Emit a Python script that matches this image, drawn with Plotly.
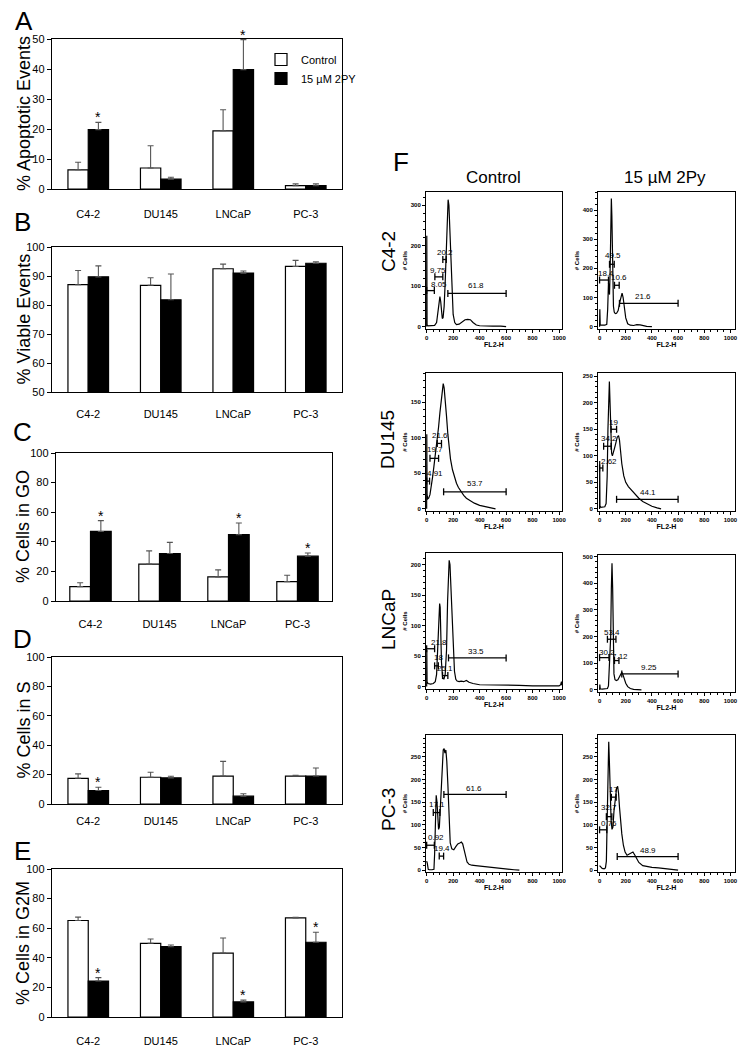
import plotly.graph_objects as go

# The page body has an 8 px margin, so the figure is drawn 8 px smaller and all
# layout pixel positions below are given in reference-image pixels.
OFF = 8
W, H = 750 - OFF, 1050 - OFF
FONT = "Liberation Sans, Arial, sans-serif"

# ---------------- data: bar panels ----------------
categories = ["C4-2", "DU145", "LNCaP", "PC-3"]

apoptotic_control = [6.4, 7.0, 19.4, 1.1]
apoptotic_control_err = [2.5, 7.4, 7.0, 0.6]
apoptotic_2py = [19.8, 3.3, 39.8, 1.1]
apoptotic_2py_err = [2.4, 0.6, 10.0, 0.6]
apoptotic_sig = [1, 0, 1, 0]

viable_control = [87.0, 86.8, 92.5, 93.3]
viable_control_err = [4.9, 2.6, 1.6, 2.1]
viable_2py = [89.7, 81.8, 91.0, 94.4]
viable_2py_err = [3.8, 8.9, 0.7, 0.5]
viable_sig = [0, 0, 0, 0]

g0_control = [9.7, 24.9, 16.3, 13.1]
g0_control_err = [2.6, 9.0, 4.7, 4.3]
g0_2py = [47.0, 32.1, 44.8, 30.3]
g0_2py_err = [7.3, 7.5, 7.9, 2.1]
g0_sig = [1, 0, 1, 1]

s_control = [17.5, 18.2, 19.0, 19.0]
s_control_err = [3.0, 3.4, 10.0, 0.5]
s_2py = [9.2, 17.8, 5.3, 19.0]
s_2py_err = [2.2, 1.1, 1.7, 5.5]
s_sig = [1, 0, 0, 0]

g2m_control = [65.2, 49.8, 43.2, 67.0]
g2m_control_err = [2.3, 2.9, 10.2, 0.3]
g2m_2py = [24.3, 47.5, 10.2, 50.5]
g2m_2py_err = [2.3, 1.1, 1.2, 6.8]
g2m_sig = [1, 0, 1, 1]

# ---------------- data: flow cytometry histograms (FL2-H vs # cells) ----------------
c42_ctrl_x = [0, 1, 3, 10, 30, 60, 75, 85, 92, 100, 106, 112, 118, 124, 132, 140, 148, 155, 162, 168, 175, 182,
              190, 200, 212, 225, 245, 270, 290, 310, 330, 350, 375, 400, 450, 500, 560, 600]
c42_ctrl_y = [0, 225, 4, 2, 2, 3, 10, 40, 65, 74, 62, 35, 20, 22, 50, 110, 210, 290, 314, 300, 240, 150,
              70, 30, 10, 5, 6, 12, 17, 18, 17, 10, 4, 2, 1, 1, 1, 0]
c42_trt_x = [0, 2, 5, 20, 40, 55, 62, 68, 72, 76, 80, 85, 90, 94, 98, 102, 106, 112, 120, 130, 142, 155, 165,
             172, 180, 190, 200, 215, 235, 260, 285, 310, 335, 360, 400]
c42_trt_y = [0, 60, 6, 5, 5, 8, 60, 150, 130, 110, 180, 350, 440, 380, 250, 130, 70, 50, 45, 46, 55, 85, 110,
             115, 100, 60, 30, 10, 5, 4, 7, 6, 3, 1, 0]
du_ctrl_x = [0, 1, 3, 8, 15, 25, 35, 45, 55, 62, 70, 80, 90, 100, 110, 118, 125, 132, 140, 150, 160, 170, 180,
             195, 210, 225, 240, 260, 280, 300, 330, 360, 400, 440, 480, 520]
du_ctrl_y = [0, 105, 20, 14, 15, 20, 30, 45, 60, 70, 85, 100, 115, 135, 155, 168, 176, 170, 155, 130, 105, 85, 70,
             55, 45, 36, 30, 24, 19, 15, 11, 8, 5, 3, 1, 0]
du_trt_x = [0, 1, 3, 10, 25, 40, 50, 58, 64, 70, 75, 80, 86, 92, 98, 105, 115, 125, 135, 145, 152, 160, 170, 185,
            200, 220, 240, 260, 280, 300, 330, 360, 400, 440, 470]
du_trt_y = [0, 90, 6, 3, 3, 4, 10, 60, 150, 220, 240, 200, 130, 105, 100, 105, 115, 125, 135, 138, 130, 110, 85, 62,
            50, 42, 36, 30, 25, 20, 14, 10, 5, 2, 0]
ln_ctrl_x = [0, 1, 3, 10, 30, 50, 65, 75, 85, 92, 98, 102, 106, 112, 120, 130, 140, 150, 158, 165, 170, 176, 182,
             190, 200, 210, 220, 230, 245, 260, 280, 300, 320, 350, 400, 450, 500, 600, 700, 800, 900, 1000, 1012,
             1018, 1022]
ln_ctrl_y = [0, 60, 8, 5, 4, 5, 8, 20, 70, 120, 136, 130, 90, 40, 15, 12, 20, 60, 140, 195, 207, 200, 170,
             120, 60, 25, 12, 9, 8, 9, 8, 10, 7, 5, 3, 3, 2, 2, 2, 1, 1, 1, 3, 8, 2]
ln_trt_x = [0, 2, 5, 20, 45, 60, 68, 75, 80, 85, 90, 95, 100, 105, 110, 118, 128, 140, 152, 162, 170, 178, 188,
            200, 215, 235, 260, 290, 320]
ln_trt_y = [0, 20, 4, 3, 3, 5, 15, 80, 110, 200, 380, 475, 380, 180, 60, 38, 35, 38, 48, 60, 66, 58, 40,
            25, 12, 5, 2, 1, 0]
pc_ctrl_x = [0, 5, 12, 20, 40, 55, 60, 65, 72, 78, 84, 90, 96, 102, 110, 118, 125, 132, 138, 145, 152, 160, 168,
             178, 190, 205, 220, 235, 250, 262, 272, 282, 292, 305, 320, 340, 370, 400, 450, 500, 550, 600, 660, 700]
pc_ctrl_y = [20, 15, 2, 1, 1, 2, 35, 80, 165, 150, 110, 90, 95, 130, 200, 250, 265, 268, 258, 265, 240, 190, 120,
             60, 47, 45, 52, 58, 60, 62, 58, 45, 30, 18, 13, 11, 10, 9, 7, 5, 3, 2, 1, 0]
pc_trt_x = [0, 8, 20, 35, 45, 52, 58, 64, 70, 75, 80, 88, 95, 102, 110, 120, 130, 138, 145, 152, 160, 170, 182,
            195, 210, 225, 240, 255, 270, 285, 300, 330, 360, 400, 450, 500, 550, 600]
pc_trt_y = [10, 8, 4, 3, 5, 20, 100, 220, 283, 240, 160, 110, 90, 95, 130, 160, 180, 185, 170, 140, 110, 80, 55,
            40, 33, 35, 38, 40, 33, 25, 17, 10, 8, 6, 5, 3, 1, 0]

# gates: (percent label, FL2 start, FL2 end, gate height, label FL2, label height)
c42_ctrl_gates = [("8.05", 0, 58, 89, 92, 104), ("9.75", 62, 122, 123, 85, 140),
                  ("20.2", 122, 148, 166, 142, 183), ("61.8", 160, 600, 82, 370, 101)]
c42_trt_gates = [("18.4", 0, 68, 160, 48, 182), ("49.5", 76, 112, 214, 100, 245),
                 ("10.6", 114, 150, 142, 150, 170), ("21.6", 152, 600, 80, 330, 104)]
du_ctrl_gates = [("4.91", 0, 22, 39, 62, 50), ("19.7", 25, 90, 71, 62, 83),
                 ("21.6", 80, 112, 92, 98, 103), ("53.7", 128, 600, 24, 362, 35)]
du_trt_gates = [("2.62", 0, 25, 77, 70, 90), ("34.2", 31, 88, 118, 72, 132),
                ("19", 88, 130, 150, 110, 163), ("44.1", 130, 600, 18, 372, 31)]
ln_ctrl_gates = [("21.8", 0, 60, 62, 90, 72), ("18", 60, 88, 34, 88, 47),
                 ("25.1", 120, 160, 18, 138, 29), ("33.5", 165, 600, 47, 370, 57)]
ln_trt_gates = [("30.2", 0, 72, 121, 60, 141), ("53.4", 60, 125, 190, 96, 216),
                ("7.12", 114, 148, 110, 157, 125), ("9.25", 170, 600, 60, 380, 85)]
pc_ctrl_gates = [("0.92", 0, 58, 55, 70, 73), ("17.1", 50, 100, 127, 75, 144),
                 ("19.4", 95, 128, 31, 115, 48), ("61.6", 130, 600, 167, 360, 181)]
pc_trt_gates = [("0.76", 0, 55, 89, 71, 103), ("32.7", 52, 94, 118, 70, 139),
                ("17", 90, 127, 161, 109, 177), ("48.9", 135, 600, 30, 368, 44)]

legend_labels = ["Control", "15 µM 2PY"]
panel_letters = ["A", "B", "C", "D", "E", "F"]
column_titles = ["Control", "15 µM 2Py"]
row_titles = ["C4-2", "DU145", "LNCaP", "PC-3"]


def fx(p):
    return (p - OFF) / W


def fy(p):
    return 1 - (p - OFF) / H


def paper_text(x, y, text, size, angle=0):
    return dict(x=fx(x), y=fy(y), xref="paper", yref="paper", text=text, textangle=angle,
                showarrow=False, xanchor="center", yanchor="middle",
                font=dict(size=size, family=FONT, color="black"))


fig = go.Figure()
annotations = []
axes = {}

# ---------------- bar panels ----------------
bar_panels = [
    dict(title="% Apoptotic Events", c=apoptotic_control, ce=apoptotic_control_err, t=apoptotic_2py,
         te=apoptotic_2py_err, sig=apoptotic_sig, yr=[0, 50], dt=10, xd=(52, 342), yd=(39, 189), so=15,
         lp=(24, 21), bw=0.28),
    dict(title="% Viable Events", c=viable_control, ce=viable_control_err, t=viable_2py, te=viable_2py_err,
         sig=viable_sig, yr=[50, 100], dt=10, xd=(52, 342), yd=(247, 392), so=12, lp=(23, 222), bw=0.28),
    dict(title="% Cells in GO", c=g0_control, ce=g0_control_err, t=g0_2py, te=g0_2py_err, sig=g0_sig,
         yr=[0, 100], dt=20, xd=(56, 332), yd=(453, 601), so=13, lp=(23, 432), bw=0.3),
    dict(title="% Cells in S", c=s_control, ce=s_control_err, t=s_2py, te=s_2py_err, sig=s_sig,
         yr=[0, 100], dt=20, xd=(52, 342), yd=(657, 804), so=7, lp=(23, 639), bw=0.28),
    dict(title="% Cells in G2M", c=g2m_control, ce=g2m_control_err, t=g2m_2py, te=g2m_2py_err, sig=g2m_sig,
         yr=[0, 100], dt=20, xd=(52, 342), yd=(869, 1017), so=14, lp=(23, 851), bw=0.28),
]

for i, p in enumerate(bar_panels):
    n = i + 1
    xa, ya = f"x{n}", f"y{n}"
    bw = p["bw"]
    err_style = dict(type="data", symmetric=False, color="#555555", thickness=1.1, width=3)
    fig.add_trace(go.Bar(x=categories, y=p["c"], width=bw, offset=-bw, xaxis=xa, yaxis=ya,
                         name=legend_labels[0], legendgroup="c", showlegend=(n == 1),
                         marker=dict(color="white", line=dict(color="black", width=1.2)),
                         error_y=dict(array=p["ce"], arrayminus=[0] * 4, **err_style)))
    fig.add_trace(go.Bar(x=categories, y=p["t"], width=bw, offset=0, xaxis=xa, yaxis=ya,
                         name=legend_labels[1], legendgroup="t", showlegend=(n == 1),
                         marker=dict(color="black", line=dict(color="black", width=1.2)),
                         error_y=dict(array=p["te"], arrayminus=[0] * 4, **err_style)))
    for k, s in enumerate(p["sig"]):
        if s:
            annotations.append(dict(x=k + bw / 2, y=p["t"][k] + p["te"][k], xref=xa, yref=ya, text="*",
                                    showarrow=False, xanchor="center", yanchor="bottom", yshift=-5,
                                    font=dict(size=14, family=FONT, color="black")))
    key = "" if n == 1 else str(n)
    axes["xaxis" + key] = dict(domain=[fx(p["xd"][0]), fx(p["xd"][1])], anchor=ya, type="category",
                               categoryorder="array", categoryarray=categories,
                               showline=True, mirror=True, linecolor="black", linewidth=1.4,
                               ticks="", ticklabelstandoff=p["so"], showgrid=False,
                               tickfont=dict(size=11, family=FONT, color="black"))
    axes["yaxis" + key] = dict(domain=[fy(p["yd"][1]), fy(p["yd"][0])], anchor=xa, range=p["yr"], dtick=p["dt"],
                               showline=True, mirror=True, linecolor="black", linewidth=1.4,
                               ticks="outside", ticklen=4, tickcolor="black", showgrid=False, zeroline=False,
                               tickfont=dict(size=11, family=FONT, color="black"))
    annotations.append(paper_text(p["lp"][0], (p["yd"][0] + p["yd"][1]) / 2, p["title"], 18, -90))
    annotations.append(paper_text(p["lp"][0], p["lp"][1], panel_letters[i], 26))

# ---------------- histogram panels ----------------
hist_panels = [
    dict(x=c42_ctrl_x, y=c42_ctrl_y, g=c42_ctrl_gates, col=0, yd=(192, 329), yr=[-6, 333], dt=100),
    dict(x=c42_trt_x, y=c42_trt_y, g=c42_trt_gates, col=1, yd=(192, 329), yr=[-8, 462], dt=100),
    dict(x=du_ctrl_x, y=du_ctrl_y, g=du_ctrl_gates, col=0, yd=(373, 511), yr=[-3, 191], dt=50),
    dict(x=du_trt_x, y=du_trt_y, g=du_trt_gates, col=1, yd=(373, 511), yr=[-4, 256], dt=50),
    dict(x=ln_ctrl_x, y=ln_ctrl_y, g=ln_ctrl_gates, col=0, yd=(553, 689), yr=[-4, 219], dt=50),
    dict(x=ln_trt_x, y=ln_trt_y, g=ln_trt_gates, col=1, yd=(555, 692), yr=[-8, 506], dt=100),
    dict(x=pc_ctrl_x, y=pc_ctrl_y, g=pc_ctrl_gates, col=0, yd=(735, 872), yr=[-4, 298], dt=50),
    dict(x=pc_trt_x, y=pc_trt_y, g=pc_trt_gates, col=1, yd=(735, 872), yr=[-4, 298], dt=50),
]
col_xd = [(426, 562), (598, 735)]
col_xr = [[-5, 1022], [-12, 1035]]
small_tick = dict(size=6, family=FONT, color="black", weight="bold")

for j, h in enumerate(hist_panels):
    n = 6 + j
    xa, ya = f"x{n}", f"y{n}"
    fig.add_trace(go.Scatter(x=h["x"], y=h["y"], mode="lines", xaxis=xa, yaxis=ya, showlegend=False,
                             line=dict(color="black", width=1.2)))
    span = (h["yr"][1] - h["yr"][0]) / (h["yd"][1] - h["yd"][0])
    d = 3.5 * span
    gx, gy = [], []
    for (lab, x0, x1, yy, lx, ly) in h["g"]:
        gx += [x0, x0, None, x0, x1, None, x1, x1, None]
        gy += [yy - d, yy + d, None, yy, yy, None, yy - d, yy + d, None]
        annotations.append(dict(x=lx, y=ly, xref=xa, yref=ya, text=lab, showarrow=False,
                                xanchor="center", yanchor="middle",
                                font=dict(size=8, family=FONT, color="black")))
    fig.add_trace(go.Scatter(x=gx, y=gy, mode="lines", xaxis=xa, yaxis=ya, showlegend=False,
                             line=dict(color="black", width=1.3)))
    xd = col_xd[h["col"]]
    axes[f"xaxis{n}"] = dict(domain=[fx(xd[0]), fx(xd[1])], anchor=ya, range=col_xr[h["col"]],
                             tickvals=[0, 200, 400, 600, 800, 1000], showline=True, mirror=True,
                             linecolor="black", linewidth=1, ticks="outside", ticklen=3, tickcolor="black",
                             showgrid=False, zeroline=False, tickfont=small_tick,
                             minor=dict(dtick=50, ticks="outside", ticklen=2, tickcolor="black", showgrid=False),
                             title=dict(text="FL2-H", standoff=1,
                                        font=dict(size=7, family=FONT, color="black", weight="bold")))
    axes[f"yaxis{n}"] = dict(domain=[fy(h["yd"][1]), fy(h["yd"][0])], anchor=xa, range=h["yr"], dtick=h["dt"],
                             showline=True, mirror=True, linecolor="black", linewidth=1, ticks="outside",
                             ticklen=3, tickcolor="black", showgrid=False, zeroline=False, tickfont=small_tick,
                             minor=dict(dtick=h["dt"] / 5, ticks="outside", ticklen=2, tickcolor="black",
                                        showgrid=False),
                             title=dict(text="# Cells", standoff=2,
                                        font=dict(size=6, family=FONT, color="black", weight="bold")))

annotations.append(paper_text(401, 162, panel_letters[5], 26))
for t, cx in zip(column_titles, [493, 665]):
    annotations.append(paper_text(cx, 178, t, 17))
for t, cy in zip(row_titles, [252, 440, 620, 810]):
    annotations.append(paper_text(388, cy, t, 19, -90))

fig.update_layout(
    template="none",
    width=W, height=H, margin=dict(l=0, r=0, t=0, b=0),
    paper_bgcolor="white", plot_bgcolor="white",
    barmode="overlay", annotations=annotations,
    font=dict(family=FONT, color="black"),
    legend=dict(x=fx(261), y=fy(45), xanchor="left", yanchor="top", bgcolor="rgba(0,0,0,0)",
                font=dict(size=11, family=FONT, color="black"), itemwidth=30, tracegroupgap=0),
    **axes,
)

fig.write_html("out.html")
